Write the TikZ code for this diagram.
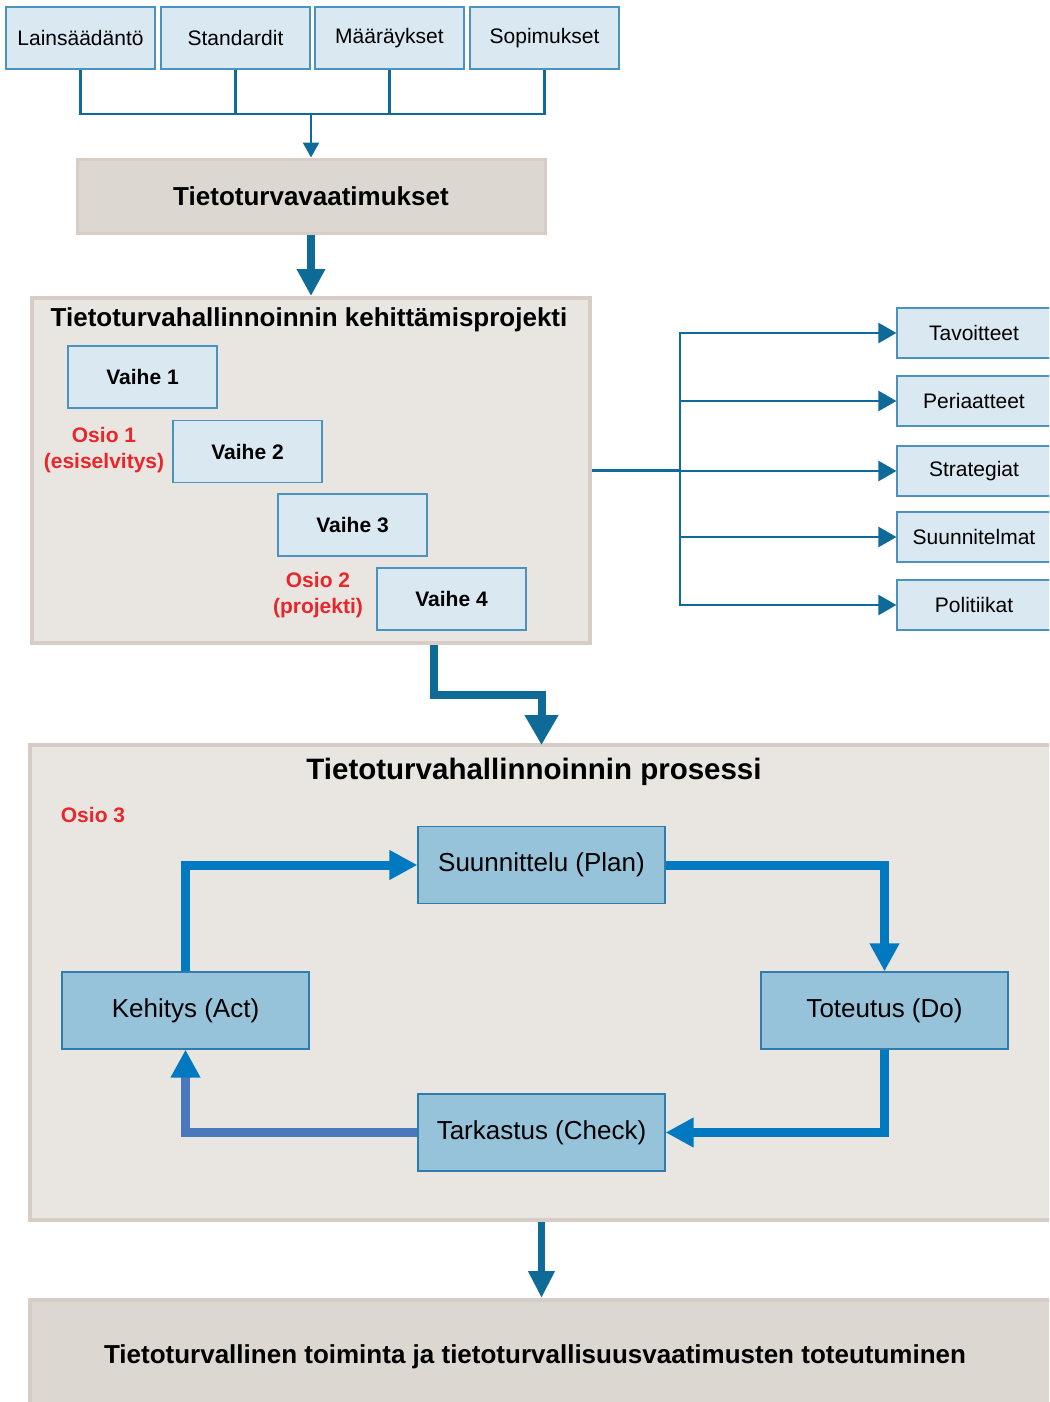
\documentclass[tikz,border=0pt]{standalone}
\usepackage{fontspec}
\setmainfont{Liberation Sans}
\usetikzlibrary{arrows.meta}
\definecolor{paleblue}{HTML}{DAE8F1}
\definecolor{paleedge}{HTML}{4A93BF}
\definecolor{flowteal}{HTML}{0E6A96}
\definecolor{midblue}{HTML}{96C2DA}
\definecolor{midedge}{HTML}{2E7DAE}
\definecolor{cyclefwd}{HTML}{0079C1}
\definecolor{cycleback}{HTML}{4A78BD}
\definecolor{warmlight}{HTML}{E9E6E1}
\definecolor{warmdark}{HTML}{DDD7D1}
\definecolor{warmedge}{HTML}{D6CEC6}
\definecolor{osiored}{HTML}{E8262B}
\begin{document}
\begin{tikzpicture}[x=1pt,y=-1pt,
  txt/.style={font=\fontsize{21}{25}\selectfont},
  srcbox/.style={draw=paleedge, fill=paleblue, line width=1.2pt, inner sep=0pt,
    minimum width=149pt, minimum height=62pt, txt},
  phasebox/.style={srcbox, font=\fontsize{21}{25}\selectfont\bfseries},
  outbox/.style={srcbox, minimum width=154pt, minimum height=50pt},
  pdcabox/.style={draw=midedge, fill=midblue, line width=1.2pt, inner sep=0pt,
    minimum width=247pt, minimum height=77pt, font=\fontsize{26}{30}\selectfont},
  panel/.style={draw=warmedge, fill=warmlight, line width=4pt, inner sep=0pt},
  osio/.style={text=osiored, align=center, font=\fontsize{21}{26}\selectfont\bfseries},
  thin/.style={draw=flowteal, line width=2.6pt},
  thick/.style={draw=flowteal, line width=8pt},
  cyc/.style={draw=cyclefwd, line width=9pt, -{Triangle[length=28pt,width=28pt]}}
]
\clip (0,0) rectangle (1049,1402);

% sources
\node[srcbox] (lain) at (80.5,38) {Lainsäädäntö};
\node[srcbox] (stan) at (235.5,38) {Standardit};
\node[srcbox] (maar) at (389.5,38) {Määräykset};
\node[srcbox] (sopi) at (544.5,38) {Sopimukset};

% requirements
\node[panel, fill=warmdark, line width=3pt, minimum width=468pt, minimum height=74pt,
  font=\fontsize{26}{30}\selectfont\bfseries] (req) at (311,196) {Tietoturvavaatimukset};

\coordinate (jn) at (311,114);
\draw[thin] (lain.south) -- (lain.south |- jn) -- (sopi.south |- jn) -- (sopi.south);
\draw[thin] (stan.south) -- (stan.south |- jn);
\draw[thin] (maar.south) -- (maar.south |- jn);
\draw[thin, -{Triangle[length=15pt,width=16pt]}] (jn) -- (req.north);

% development project
\node[panel, minimum width=558pt, minimum height=345pt] (proj) at (311,470.5) {};
\node[font=\fontsize{26}{30}\selectfont\bfseries] (projt) at (309,320) {Tietoturvahallinnoinnin kehittämisprojekti};
\draw[thick, -{Triangle[length=27pt,width=27pt]}] (req.south) -- (proj.north);

\node[phasebox] (v1) at (142.5,377) {Vaihe 1};
\node[phasebox] (v2) at (247.5,451.5) {Vaihe 2};
\node[phasebox] (v3) at (352.5,525) {Vaihe 3};
\node[phasebox] (v4) at (451.5,599) {Vaihe 4};
\node[osio] (os1) at (104,450.5) {Osio 1\\(esiselvitys)};
\node[osio] (os2) at (318,595) {Osio 2\\(projekti)};

% outputs of the project
\node[outbox] (tav) at (974,333) {Tavoitteet};
\node[outbox] (per) at (974,401) {Periaatteet};
\node[outbox] (str) at (974,471) {Strategiat};
\node[outbox] (suu) at (974,537) {Suunnitelmat};
\node[outbox] (pol) at (974,605) {Politiikat};
\coordinate (tr) at (680,470.5);
\draw[thin] (proj.east) -- (tr);
\foreach \t in {tav,per,str,suu,pol}
  \draw[thin, -{Triangle[length=18pt,width=20pt]}] (tr) |- (\t.west);

% management process
\node[panel, minimum width=1030pt, minimum height=475pt] (proc) at (545,982.5) {};
\node[font=\fontsize{29.5}{34}\selectfont\bfseries] (proct) at (534,772) {Tietoturvahallinnoinnin prosessi};
\node[osio] (os3) at (93,815) {Osio 3};
\coordinate (bend) at (433.5,695);
\draw[thick, -{Triangle[length=30pt,width=32pt]}]
  (proj.south -| bend) -- (bend) -- (541.5,695) -- (541.5,745);

\node[pdcabox] (plan) at (541.5,865) {Suunnittelu (Plan)};
\node[pdcabox] (act) at (185.5,1010.5) {Kehitys (Act)};
\node[pdcabox] (do) at (884.5,1010.5) {Toteutus (Do)};
\node[pdcabox] (chk) at (541.5,1132.5) {Tarkastus (Check)};

\draw[cyc] (act.north) |- (plan.west);
\draw[cyc] (plan.east) -| (do.north);
\draw[cyc] (do.south) |- (chk.east);
\draw[cyc, draw=cycleback, -{Triangle[length=28pt,width=28pt,color=cyclefwd]}] (chk.west) -| (act.south);

% result
\node[panel, fill=warmdark, minimum width=1030pt, minimum height=110pt] (res) at (545,1355) {};
\node[font=\fontsize{26}{30}\selectfont\bfseries] (rest) at (535,1357)
  {Tietoturvallinen toiminta ja tietoturvallisuusvaatimusten toteutuminen};
\draw[thick, line width=7pt, -{Triangle[length=27pt,width=25pt]}]
  (chk.south |- proc.south) -- (chk.south |- res.north);
\end{tikzpicture}
\end{document}
